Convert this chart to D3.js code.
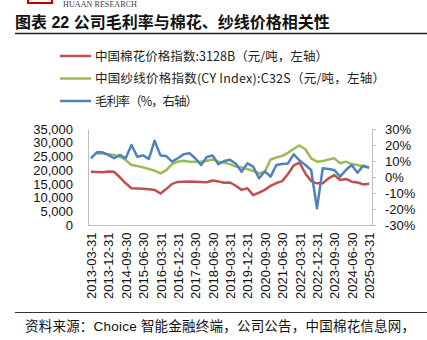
<!DOCTYPE html>
<html><head><meta charset="utf-8">
<script src="https://cdn.jsdelivr.net/npm/d3@7"></script>
<style>body{margin:0;background:#fff}svg{display:block}</style>
</head><body>
<svg id="c" width="427" height="340"></svg>
<script>
const dates = ["2013-03-31","2013-06-30","2013-09-30","2013-12-31","2014-03-31","2014-06-30","2014-09-30","2014-12-31",
"2015-03-31","2015-06-30","2015-09-30","2015-12-31","2016-03-31","2016-06-30","2016-09-30","2016-12-31",
"2017-03-31","2017-06-30","2017-09-30","2017-12-31","2018-03-31","2018-06-30","2018-09-30","2018-12-31",
"2019-03-31","2019-06-30","2019-09-30","2019-12-31","2020-03-31","2020-06-30","2020-09-30","2020-12-31",
"2021-03-31","2021-06-30","2021-09-30","2021-12-31","2022-03-31","2022-06-30","2022-09-30","2022-12-31",
"2023-03-31","2023-06-30","2023-09-30","2023-12-31","2024-03-31","2024-06-30","2024-09-30","2024-12-31","2025-03-31"];
const xTickLabels = ["2013-03-31","2013-12-31","2014-09-30","2015-06-30","2016-03-31","2016-12-31","2017-09-30","2018-06-30",
"2019-03-31","2019-12-31","2020-09-30","2021-06-30","2022-03-31","2022-12-31","2023-09-30","2024-06-30","2025-03-31"];
const cotton = [19400,19300,19200,19500,19400,17400,15200,13400,13300,13200,13000,12800,11500,13100,15000,15700,
15800,15900,15800,15700,15600,16200,15900,15400,15500,14300,12800,13400,10900,11800,12800,14300,
15300,16000,18600,21700,22700,18800,16000,15200,15200,17000,18200,16400,16800,15800,15500,14800,15000];
const yarn = [null,26100,26100,25800,25500,24900,23700,21900,21500,21000,20400,19800,18800,20000,22200,23100,
23400,23100,23100,23100,23400,23900,23100,22700,22200,21300,21000,20400,19700,18800,19400,23900,
24600,25200,26300,27800,29000,27600,24300,23100,23300,23900,24300,22500,23100,22200,21900,21300,21000];
const margin = [11.7,15.4,15.4,13.8,11.7,13.8,11.7,20.0,12.7,13.5,11.3,22.7,13.5,13.1,9.6,11.7,
14.2,14.8,11.7,7.5,12.5,13.5,8.0,10.0,10.8,8.3,3.3,8.5,6.5,-0.8,3.5,0.2,
7.5,8.1,8.5,14.2,10.3,7.5,4.4,-19.5,5.4,5.0,4.4,0.2,4.4,7.5,2.7,7.1,5.8];
const leftTicks = [0,5000,10000,15000,20000,25000,30000,35000];
const rightTicks = [-30,-20,-10,0,10,20,30];
const legendLabels = ["中国棉花价格指数:3128B（元/吨，左轴）","中国纱线价格指数(CY Index):C32S（元/吨，左轴）","毛利率（%，右轴）"];
const colors = ["#c0504d","#9bbb59","#4f81bd"];

const svg = d3.select("#c");
const latin = "'Liberation Sans', Arial, 'Noto Sans CJK SC', sans-serif";
const cjk = "'Noto Sans CJK SC', 'Liberation Sans', sans-serif";

// header
svg.append("rect").attr("x",28).attr("y",-6).attr("width",24).attr("height",9).attr("fill","none").attr("stroke","#c00000").attr("stroke-width",2);
svg.append("text").attr("x",63).attr("y",7).attr("font-family","'Liberation Serif', serif").attr("font-size",9)
  .attr("fill","#4a3b3b").attr("textLength",74).attr("lengthAdjust","spacingAndGlyphs").text("HUAAN RESEARCH");
svg.append("text").attr("x",15).attr("y",28).attr("font-family",latin).attr("font-weight","bold").attr("font-size",16)
  .attr("fill","#111").text("图表 22 公司毛利率与棉花、纱线价格相关性");
svg.append("line").attr("x1",15).attr("x2",427).attr("y1",33.5).attr("y2",33.5).attr("stroke","#222").attr("stroke-width",1.5);

// legend
const legendWidths = [233,290,103];
legendLabels.forEach((t,i)=>{
  const y = 56 + i*22.5;
  svg.append("line").attr("x1",60).attr("x2",91).attr("y1",y).attr("y2",y).attr("stroke",colors[i]).attr("stroke-width",2.5);
  svg.append("text").attr("x",95).attr("y",y+4.5).attr("font-family",cjk).attr("font-size",12.5).attr("fill","#222")
    .attr("textLength",legendWidths[i]).attr("lengthAdjust","spacing").text(t);
});

// scales
const x = d3.scalePoint().domain(dates).range([88,372]).padding(0.5);
const yL = d3.scaleLinear().domain([0,35000]).range([225,129]);
const yR = d3.scaleLinear().domain([-30,30]).range([225,129]);

// axes
const gL = svg.append("g").attr("transform","translate(88,0)")
  .call(d3.axisLeft(yL).tickValues(leftTicks).tickSize(0).tickPadding(15).tickFormat(d3.format(",")));
gL.select(".domain").attr("stroke","#bfbfbf");
gL.selectAll("text").attr("font-family",latin).attr("font-size",13).attr("fill","#111");

const gR = svg.append("g").attr("transform","translate(372,0)")
  .call(d3.axisRight(yR).tickValues(rightTicks).tickSize(4).tickPadding(9).tickFormat(d=>d+"%"));
gR.select(".domain").attr("stroke","#bfbfbf");
gR.selectAll(".tick line").attr("stroke","#bfbfbf");
gR.selectAll("text").attr("font-family",latin).attr("font-size",13).attr("fill","#111");

const gX = svg.append("g").attr("transform","translate(0,225.5)")
  .call(d3.axisBottom(x).tickValues(xTickLabels).tickSize(0).tickPadding(0));
gX.select(".domain").attr("stroke","#bfbfbf").attr("d","M88,0H372");
gX.selectAll("text").attr("font-family",latin).attr("font-size",13).attr("fill","#111")
  .attr("transform","rotate(-90)").attr("text-anchor","end").attr("dy","0.35em").attr("dx","-7").attr("y",0).attr("x",0);

// lines
function draw(vals, scale, col){
  const line = d3.line().defined(d=>d!=null).x((d,i)=>x(dates[i])).y(d=>scale(d));
  svg.append("path").datum(vals).attr("d", line)
    .attr("fill","none").attr("stroke",col).attr("stroke-width",2.5).attr("stroke-linejoin","round");
}
draw(cotton, yL, colors[0]);
draw(yarn, yL, colors[1]);
draw(margin, yR, colors[2]);

// footer
svg.append("line").attr("x1",15).attr("x2",427).attr("y1",312.5).attr("y2",312.5).attr("stroke","#333").attr("stroke-width",1);
svg.append("text").attr("x",25).attr("y",331).attr("font-family",latin).attr("font-size",13.5).attr("fill","#111")
  .attr("textLength",390).attr("lengthAdjust","spacing")
  .text("资料来源：Choice 智能金融终端，公司公告，中国棉花信息网，");
</script>
</body></html>
